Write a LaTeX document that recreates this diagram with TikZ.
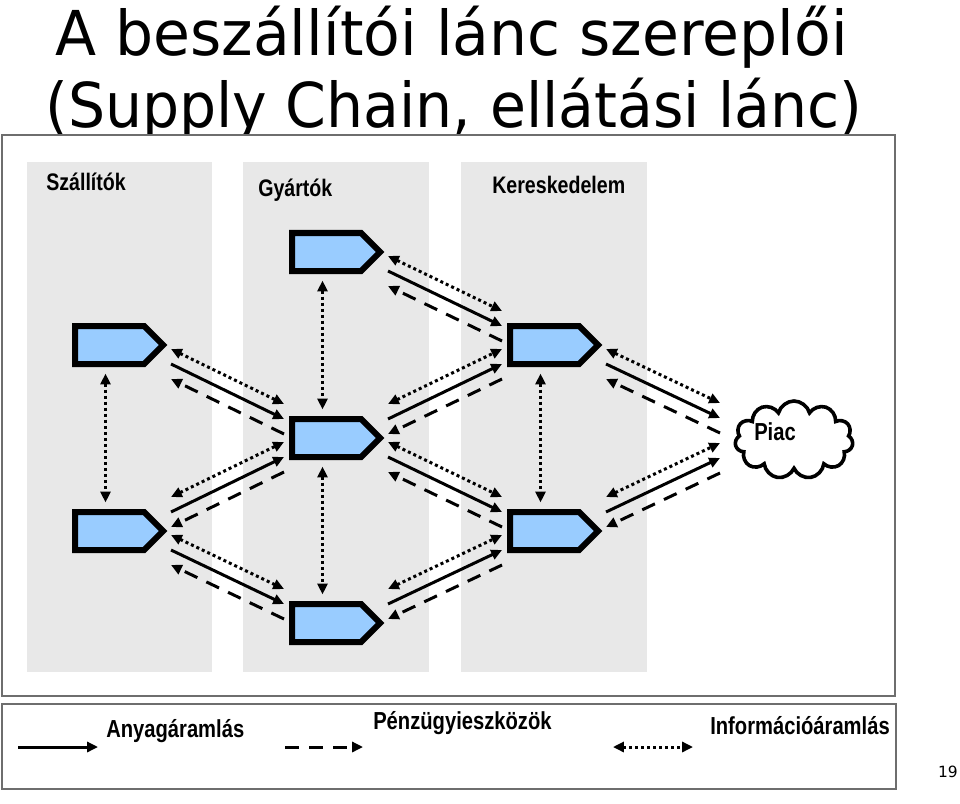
\documentclass[tikz,border=0pt]{standalone}
\usepackage{fontspec}
\usetikzlibrary{shapes.symbols,arrows.meta,calc}
\newfontfamily\titlefont[FakeStretch=0.97]{DejaVu Sans}
\newfontfamily\titlefontb[FakeStretch=0.945]{DejaVu Sans}
\newfontfamily\labfont[FakeStretch=0.82]{Liberation Sans}
\newfontfamily\numfont{DejaVu Sans}
\definecolor{boxblue}{HTML}{99CCFF}
\definecolor{colgray}{HTML}{E8E8E8}
\definecolor{framegray}{HTML}{6E6E6E}

% three parallel flows between two points
\newcommand{\flows}[2]{%
  \coordinate (fa) at (#1);
  \coordinate (fb) at (#2);
  \draw[info]  ($(fa)+(0,-15)$) -- ($(fb)+(0,-15)$);
  \draw[mat]   (fa) -- (fb);
  \draw[money] ($(fb)+(0,15)$) -- ($(fa)+(0,15)$);
}
\newcommand{\flowdown}[2]{\flows{$(#1.east |- #1.south)+(8,0)$}{$(#2.west |- #2.north)+(-8,0)$}}
\newcommand{\flowup}[2]{\flows{$(#1.east |- #1.north)+(8,0)$}{$(#2.west |- #2.south)+(-8,0)$}}

\tikzset{
  actor/.style={signal, signal to=east, signal pointer angle=90, draw=black,
    fill=boxblue, line width=0.15cm, minimum width=2.2cm, minimum height=0.95cm,
    inner sep=0pt, outer sep=0pt, anchor=west},
  mat/.style={line width=0.075cm, -{Triangle[length=0.27cm, width=0.25cm]}},
  money/.style={line width=0.075cm, dash pattern=on 0.35cm off 0.25cm,
    -{Triangle[length=0.27cm, width=0.25cm]}},
  info/.style={line width=0.075cm, dash pattern=on 0.075cm off 0.075cm,
    {Triangle[length=0.27cm, width=0.25cm]}-{Triangle[length=0.27cm, width=0.25cm]}},
  vinfo/.style={info, shorten <=0.24cm, shorten >=0.24cm},
  column/.style={fill=colgray, draw=none},
  frame/.style={draw=framegray, line width=0.04cm, fill=white},
  collabel/.style={anchor=base west, inner sep=0pt,
    font=\labfont\bfseries\fontsize{17pt}{20pt}\selectfont},
  leglabel/.style={anchor=base west, inner sep=0pt,
    font=\labfont\bfseries\fontsize{17.5pt}{20pt}\selectfont},
  heading/.style={anchor=base west, inner sep=0pt,
    font=\fontsize{44pt}{50pt}\selectfont},
}

\begin{document}
\begin{tikzpicture}[x=0.025cm, y=-0.025cm]
  \useasboundingbox (0,0) rectangle (960,803);

  % title
  \node[heading] (title1) at (55,55) {\titlefont A beszállítói lánc szereplői};
  \node[heading] (title2) at (45,127) {\titlefontb (Supply Chain, ellátási lánc)};

  % frames
  \draw[frame] (2,135) rectangle (895,696);
  \draw[frame] (2,704) rectangle (896,789);

  % columns
  \fill[column] (27,162) rectangle (212,672);
  \fill[column] (243,162) rectangle (429,672);
  \fill[column] (461,162) rectangle (647,672);
  \node[collabel] (szlab) at (46,190) {Szállítók};
  \node[collabel] (gylab) at (258,196) {Gyártók};
  \node[collabel] (kelab) at (492,193) {Kereskedelem};

  % actors
  \node[actor] (sz1) at (75,345) {};
  \node[actor] (sz2) at (75,531) {};
  \node[actor] (gy1) at (292,252) {};
  \node[actor] (gy2) at (292,438) {};
  \node[actor] (gy3) at (292,623) {};
  \node[actor] (ke1) at (510,345) {};
  \node[actor] (ke2) at (510,531) {};

  % market
  \node[cloud, cloud puffs=11, aspect=1.6, draw=black, line width=0.09cm,
    minimum width=2.95cm, minimum height=1.95cm, inner sep=0pt] (piac) at (794,440) {};
  \node[leglabel, anchor=base west] (piaclab) at (754,440) {Piac};
  \coordinate (mktn) at ($(piac.west)+(-14,-22)$);
  \coordinate (mkts) at ($(piac.west)+(-14,18)$);

  % vertical information flows
  \draw[vinfo] ([xshift=-0.1cm]sz1.south) -- ([xshift=-0.1cm]sz2.north);
  \draw[vinfo] ([xshift=-0.1cm]gy1.south) -- ([xshift=-0.1cm]gy2.north);
  \draw[vinfo] ([xshift=-0.1cm]gy2.south) -- ([xshift=-0.1cm]gy3.north);
  \draw[vinfo] ([xshift=-0.1cm]ke1.south) -- ([xshift=-0.1cm]ke2.north);

  % flows between the stages
  \flowdown{sz1}{gy2}
  \flowdown{sz2}{gy3}
  \flowup{sz2}{gy2}
  \flowdown{gy1}{ke1}
  \flowdown{gy2}{ke2}
  \flowup{gy2}{ke1}
  \flowup{gy3}{ke2}
  \flows{$(ke1.east |- ke1.south)+(8,0)$}{mktn}
  \flows{$(ke2.east |- ke2.north)+(8,0)$}{mkts}

  % legend
  \draw[mat] (18,747) -- (98,747);
  \node[leglabel] (anyag) at (106,737) {Anyagáramlás};
  \draw[money] (285,747) -- (363,747);
  \node[leglabel] (penz) at (373,729) {Pénzügyieszközök};
  \draw[info] (613,747) -- (693,747);
  \node[leglabel] (info) at (710,734) {Információáramlás};

  \node[anchor=base east, inner sep=0pt, font=\numfont\fontsize{11pt}{13pt}\selectfont]
    (page) at (958,777) {19};
\end{tikzpicture}
\end{document}
